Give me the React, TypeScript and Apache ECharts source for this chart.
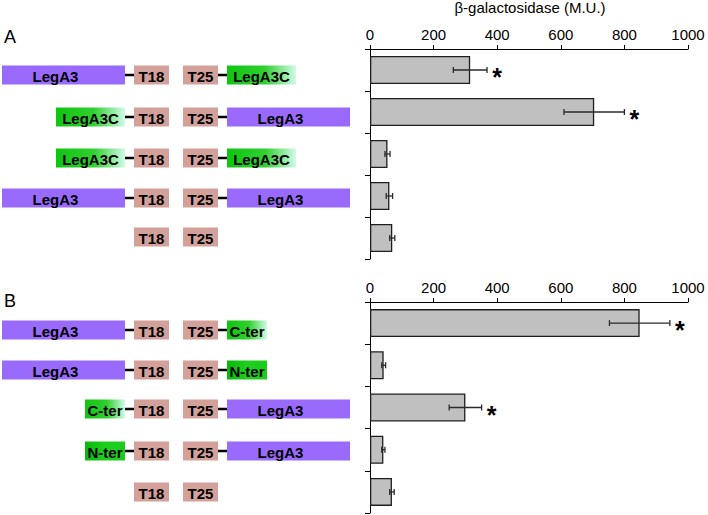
import React, { useEffect, useRef } from "react";
import * as echarts from "echarts";

// ---------- data ----------
const categoriesA = ["A1", "A2", "A3", "A4", "A5"];
const valuesA = [315, 705, 55, 61, 70];
const errorsA = [53, 95, 8, 10, 8];
const significantA = [true, true, false, false, false];

const categoriesB = ["B1", "B2", "B3", "B4", "B5"];
const valuesB = [848, 43, 300, 42, 69];
const errorsB = [95, 6, 51, 5, 7];
const significantB = [true, false, true, false, false];

const axisMin = 0;
const axisMax = 1000;
const axisInterval = 200;
const axisTitle = "β-galactosidase (M.U.)";
const panelLabels = ["A", "B"];

// constructs per row: [fusion on T18, fusion on T25]
const constructsA: (string | null)[][] = [
  ["LegA3", "LegA3C"],
  ["LegA3C", "LegA3"],
  ["LegA3C", "LegA3C"],
  ["LegA3", "LegA3"],
  [null, null],
];
const constructsB: (string | null)[][] = [
  ["LegA3", "C-ter"],
  ["LegA3", "N-ter"],
  ["C-ter", "LegA3"],
  ["N-ter", "LegA3"],
  [null, null],
];

// ---------- layout ----------
const FONT = "'Liberation Sans', Arial, Helvetica, sans-serif";
const rowCentersA = [75, 117, 158, 198, 237];
const rowCentersB = [330, 370, 409, 451, 492];
const BOX_H = 19;
const LEFT_END = 125;
const T18_X = 134;
const T25_X = 183;
const TAG_W = 35;
const RIGHT_START = 227;

const purple = "#9a6afc";
const pink = "#d4a09a";

function greenGradient(solid: boolean) {
  return new echarts.graphic.LinearGradient(0, 0, 1, 0, solid
    ? [
        { offset: 0, color: "#08b808" },
        { offset: 0.5, color: "#1fcf1f" },
        { offset: 1, color: "#1ccc1c" },
      ]
    : [
        { offset: 0, color: "#10c410" },
        { offset: 0.55, color: "#30d030" },
        { offset: 1, color: "#d2fbe8" },
      ]);
}

function fusionSpec(name: string) {
  if (name === "LegA3") return { w: 123, fill: purple as any, textShift: -8 };
  if (name === "LegA3C") return { w: 69, fill: greenGradient(false), textShift: 0 };
  if (name === "C-ter") return { w: 40, fill: greenGradient(false), textShift: 0 };
  return { w: 40, fill: greenGradient(true), textShift: 0 };
}

function box(x: number, cy: number, w: number, fill: any, label: string, shift = 0) {
  return [
    {
      type: "rect",
      shape: { x, y: cy - BOX_H / 2, width: w, height: BOX_H },
      style: { fill },
    },
    {
      type: "text",
      x: x + w / 2 + shift,
      y: cy + 1,
      style: {
        text: label,
        fill: "#000",
        font: `bold 15px ${FONT}`,
        textAlign: "center",
        textVerticalAlign: "middle",
      },
    },
  ];
}

function dash(x1: number, x2: number, cy: number) {
  return {
    type: "line",
    shape: { x1, y1: cy, x2, y2: cy },
    style: { stroke: "#000", lineWidth: 2.5 },
  };
}

function buildSchematic(constructs: (string | null)[][], centers: number[]) {
  const out: any[] = [];
  constructs.forEach((row, i) => {
    const cy = centers[i];
    const [l, r] = row;
    if (l) {
      const s = fusionSpec(l);
      out.push(...box(LEFT_END - s.w, cy, s.w, s.fill, l, s.textShift));
      out.push(dash(LEFT_END, T18_X, cy));
    }
    out.push(...box(T18_X, cy, TAG_W, pink, "T18"));
    out.push(...box(T25_X, cy, TAG_W, pink, "T25"));
    if (r) {
      const s = fusionSpec(r);
      out.push(dash(T25_X + TAG_W, RIGHT_START, cy));
      out.push(...box(RIGHT_START, cy, s.w, s.fill, r, s.textShift));
    }
  });
  return out;
}

function errorData(values: number[], errors: number[], sig: boolean[]) {
  return values.map((v, i) => [v - errors[i], v + errors[i], i, sig[i] ? 1 : 0]);
}

function renderError(params: any, api: any) {
  const lo = api.value(0);
  const hi = api.value(1);
  const cat = api.value(2);
  const sig = api.value(3);
  const p1 = api.coord([lo, cat]);
  const p2 = api.coord([hi, cat]);
  const cap = 3;
  const st = { stroke: "#2a2a2a", lineWidth: 1.3 };
  const children: any[] = [
    { type: "line", shape: { x1: p1[0], y1: p1[1], x2: p2[0], y2: p2[1] }, style: st },
    { type: "line", shape: { x1: p1[0], y1: p1[1] - cap, x2: p1[0], y2: p1[1] + cap }, style: st },
    { type: "line", shape: { x1: p2[0], y1: p2[1] - cap, x2: p2[0], y2: p2[1] + cap }, style: st },
  ];
  if (sig) {
    children.push({
      type: "text",
      x: p2[0] + 10,
      y: p2[1] + 7,
      style: {
        text: "*",
        fill: "#000",
        font: `bold 25px ${FONT}`,
        textAlign: "center",
        textVerticalAlign: "middle",
      },
    });
  }
  return { type: "group", children };
}

function xAxisCfg(gridIndex: number) {
  return {
    type: "value",
    gridIndex,
    position: "top",
    min: axisMin,
    max: axisMax,
    interval: axisInterval,
    axisLine: { show: true, lineStyle: { color: "#000", width: 1 } },
    axisTick: { show: true, length: 4, lineStyle: { color: "#000" } },
    axisLabel: {
      fontSize: 15,
      color: "#000",
      margin: 7,
      fontFamily: FONT,
      formatter: (v: number) => String(v),
    },
    splitLine: { show: false },
  };
}

function yAxisCfg(gridIndex: number, cats: string[]) {
  return {
    type: "category",
    gridIndex,
    inverse: true,
    data: cats,
    axisLine: { show: true, lineStyle: { color: "#000", width: 1 } },
    axisTick: { show: true, length: 5, lineStyle: { color: "#000" } },
    axisLabel: { show: false },
  };
}

function barSeries(idx: number, values: number[]) {
  return {
    type: "bar",
    xAxisIndex: idx,
    yAxisIndex: idx,
    data: values,
    barWidth: 28,
    itemStyle: { color: "#c0c0c0", borderColor: "#1e1e1e", borderWidth: 1.3 },
  };
}

function errSeries(idx: number, data: number[][]) {
  return {
    type: "custom",
    xAxisIndex: idx,
    yAxisIndex: idx,
    renderItem: renderError,
    encode: { x: [0, 1], y: 2 },
    data,
    z: 5,
  };
}

export default function App() {
  const ref = useRef<HTMLDivElement>(null);
  useEffect(() => {
    if (!ref.current) return;
    const chart = echarts.init(ref.current, undefined, { renderer: "svg" });
    chart.setOption({
      animation: false,
      backgroundColor: "#fff",
      grid: [
        { left: 370, top: 49, width: 318, height: 210 },
        { left: 370, top: 302, width: 318, height: 211 },
      ],
      xAxis: [xAxisCfg(0), xAxisCfg(1)],
      yAxis: [yAxisCfg(0, categoriesA), yAxisCfg(1, categoriesB)],
      series: [
        barSeries(0, valuesA),
        errSeries(0, errorData(valuesA, errorsA, significantA)),
        barSeries(1, valuesB),
        errSeries(1, errorData(valuesB, errorsB, significantB)),
      ],
      graphic: [
        {
          type: "text",
          x: 530,
          y: 7,
          style: {
            text: axisTitle,
            fill: "#000",
            font: `15px ${FONT}`,
            textAlign: "center",
            textVerticalAlign: "middle",
          },
        },
        {
          type: "text",
          x: 4,
          y: 37,
          style: { text: panelLabels[0], fill: "#000", font: `18px ${FONT}`, textVerticalAlign: "middle" },
        },
        {
          type: "text",
          x: 4,
          y: 301,
          style: { text: panelLabels[1], fill: "#000", font: `18px ${FONT}`, textVerticalAlign: "middle" },
        },
        ...buildSchematic(constructsA, rowCentersA),
        ...buildSchematic(constructsB, rowCentersB),
      ],
    });
    return () => chart.dispose();
  }, []);
  return (
    <div
      ref={ref}
      style={{ position: "absolute", left: 0, top: 0, width: 708, height: 515, background: "#fff" }}
    />
  );
}
